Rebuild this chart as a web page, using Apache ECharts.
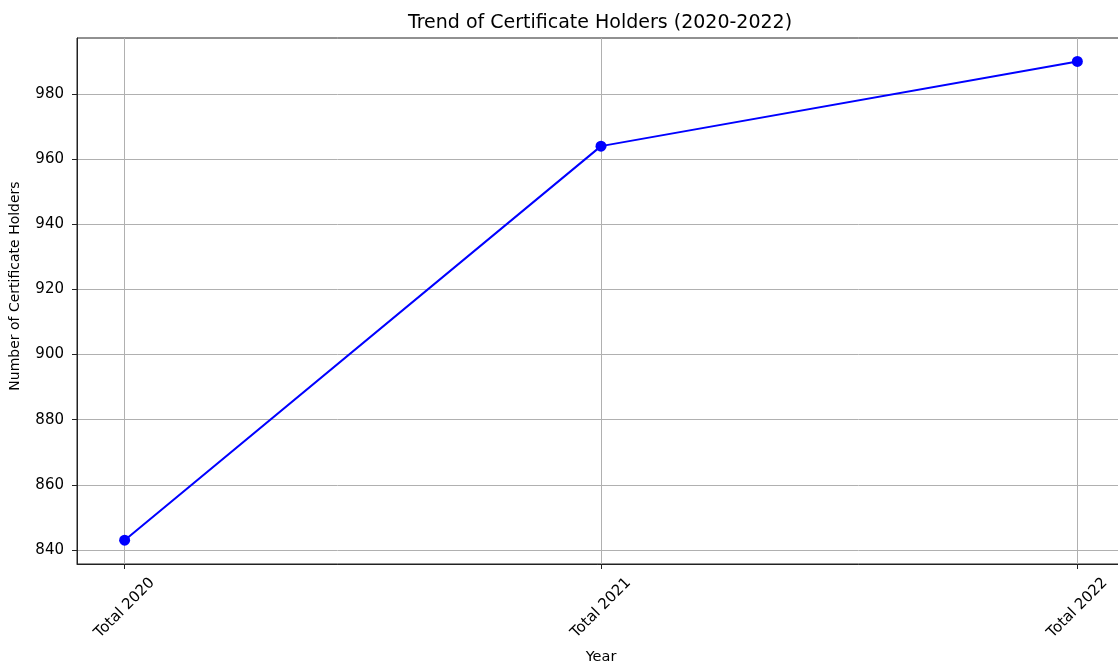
<!DOCTYPE html>
<html>
<head>
<meta charset="utf-8">
<script src="https://cdn.jsdelivr.net/npm/echarts@6/dist/echarts.min.js"></script>
<style>
  html, body { margin: 0; padding: 0; background: #fff; }
  #main { width: 1118px; height: 666px; }
</style>
</head>
<body>
<div id="main"></div>
<script>
// data
const categories = ['Total 2020', 'Total 2021', 'Total 2022'];
const holders = [843, 964, 990];
const yTicks = [840, 860, 880, 900, 920, 940, 960, 980];
const xTicks = [0, 1, 2];

const chart = echarts.init(document.getElementById('main'));
const font = 'DejaVu Sans';

const option = {
  animation: false,
  textStyle: { fontFamily: font },
  title: {
    text: 'Trend of Certificate Holders (2020-2022)',
    left: 595,
    top: 9,
    textAlign: 'center',
    textStyle: { fontFamily: font, fontSize: 19, fontWeight: 'normal', color: '#000' }
  },
  grid: {
    left: 77,
    right: -7,
    top: 38,
    bottom: 102,
    outerBoundsMode: 'none',
    containLabel: false,
    show: true,
    borderColor: '#222',
    borderWidth: 1
  },
  xAxis: {
    type: 'value',
    min: -0.1,
    max: 2.1,
    splitNumber: 2,
    name: 'Year',
    nameLocation: 'middle',
    nameGap: 86,
    nameTextStyle: { fontFamily: font, fontSize: 14.5, color: '#000' },
    axisLine: { show: true, onZero: false, lineStyle: { color: '#222' } },
    axisTick: { show: true, customValues: xTicks, length: 5, lineStyle: { color: '#222' } },
    axisLabel: {
      customValues: xTicks,
      rotate: 45,
      align: 'center',
      verticalAlign: 'middle',
      margin: 44,
      fontFamily: font,
      fontSize: 15,
      color: '#000',
      formatter: v => categories[Math.round(v)] || ''
    },
    splitLine: { show: true, lineStyle: { color: '#b0b0b0', width: 1 } }
  },
  yAxis: {
    type: 'value',
    min: 835.7,
    max: 997.2,
    splitNumber: 8,
    name: 'Number of Certificate Holders',
    nameLocation: 'middle',
    nameGap: 55,
    nameTextStyle: { fontFamily: font, fontSize: 14, color: '#000', padding: [0, 0, 0, 30] },
    axisLine: { show: true, onZero: false, lineStyle: { color: '#222' } },
    axisTick: { show: true, customValues: yTicks, length: 5, lineStyle: { color: '#222' } },
    axisLabel: {
      customValues: yTicks,
      margin: 13,
      fontFamily: font,
      fontSize: 15,
      color: '#000'
    },
    splitLine: { show: true, lineStyle: { color: '#b0b0b0', width: 1 } }
  },
  series: [{
    type: 'line',
    data: holders.map((v, i) => [i, v]),
    color: '#0000ff',
    lineStyle: { color: '#0000ff', width: 2 },
    symbol: 'circle',
    symbolSize: 11,
    itemStyle: { color: '#0000ff' }
  }]
};

chart.setOption(option);
</script>
</body>
</html>
